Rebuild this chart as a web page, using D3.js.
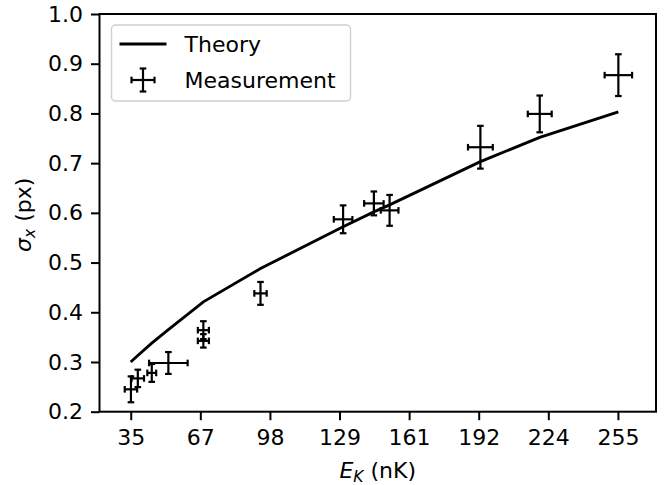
<!DOCTYPE html>
<html>
<head>
<meta charset="utf-8">
<script src="https://cdn.jsdelivr.net/npm/d3@7"></script>
<style>
  body { margin: 0; background: #fff; }
  text { font-family: "DejaVu Sans", sans-serif; fill: #000; }
</style>
</head>
<body>
<div id="chart"></div>
<script>
// theory curve, evaluated at the measured energies
var theoryE     = [35.0, 38.2, 44.5, 52.0, 67.8, 93.6, 130.9, 144.8, 151.9, 192.9, 219.7, 255.2];
var theorySigma = [0.300, 0.313, 0.338, 0.365, 0.421, 0.488, 0.572, 0.602, 0.616, 0.703, 0.752, 0.803];

// measurements with error bars
var measE        = [35.1, 38.2, 44.5, 52.0, 67.8, 67.8, 93.6, 130.9, 144.8, 151.9, 192.9, 219.7, 255.2];
var measEErr     = [2.8, 2.8, 2.0, 8.7, 2.5, 2.5, 2.8, 4.2, 4.4, 4.0, 5.6, 5.4, 6.2];
var measSigma    = [0.245, 0.267, 0.278, 0.298, 0.3425, 0.364, 0.438, 0.587, 0.619, 0.605, 0.732, 0.799, 0.877];
var measSigmaErr = [0.026, 0.0175, 0.018, 0.022, 0.0135, 0.018, 0.023, 0.028, 0.024, 0.031, 0.043, 0.037, 0.042];

// tick labels
var xTickLabels = ["35", "67", "98", "129", "161", "192", "224", "255"];
var yTicks = [0.2, 0.3, 0.4, 0.5, 0.6, 0.7, 0.8, 0.9, 1.0];

var margin = {top: 14, right: 9, bottom: 73.3, left: 99.5},
    width = 665 - margin.left - margin.right,
    height = 485 - margin.top - margin.bottom;

var fs = "22px", fsSub = "15.5px";

var svg = d3.select("#chart")
  .append("svg")
    .attr("width", 665)
    .attr("height", 485)
  .append("g")
    .attr("transform", "translate(" + margin.left + "," + margin.top + ")");

var x = d3.scaleLinear().domain([20.9, 272.2]).range([0, width]);
var y = d3.scaleLinear().domain([0.2, 1.0]).range([height, 0]);

// x ticks are evenly spaced between 35 and 255
var xTickVals = xTickLabels.map(function(d, i) { return 35 + i * (255 - 35) / (xTickLabels.length - 1); });

var xAxis = d3.axisBottom(x)
  .tickValues(xTickVals)
  .tickFormat(function(d, i) { return xTickLabels[i]; })
  .tickSizeInner(8.5).tickSizeOuter(0).tickPadding(9.5);
var yAxis = d3.axisLeft(y)
  .tickValues(yTicks)
  .tickFormat(d3.format(".1f"))
  .tickSizeInner(8.5).tickSizeOuter(0).tickPadding(8);

var gx = svg.append("g").attr("transform", "translate(0," + height + ")").call(xAxis);
var gy = svg.append("g").call(yAxis);
[gx, gy].forEach(function(g) {
  g.select(".domain").remove();
  g.selectAll(".tick line").attr("stroke", "#000").attr("stroke-width", 2);
  g.selectAll(".tick text").style("font-size", fs).attr("fill", "#000");
});

// frame
svg.append("rect")
  .attr("width", width).attr("height", height)
  .attr("fill", "none").attr("stroke", "#000").attr("stroke-width", 2);

// theory line
var line = d3.line()
  .x(function(d) { return x(d[0]); })
  .y(function(d) { return y(d[1]); });
svg.append("path")
  .datum(d3.zip(theoryE, theorySigma))
  .attr("d", line)
  .attr("fill", "none")
  .attr("stroke", "#000")
  .attr("stroke-width", 2.9);

// error bars
var cap = 3.3;
var meas = measE.map(function(e, i) {
  return {e: e, s: measSigma[i], de: measEErr[i], ds: measSigmaErr[i]};
});
var eb = svg.append("g").selectAll("g").data(meas).enter().append("g")
  .attr("stroke", "#000").attr("stroke-width", 2.2);
eb.append("line")
  .attr("x1", function(d) { return x(d.e - d.de); })
  .attr("x2", function(d) { return x(d.e + d.de); })
  .attr("y1", function(d) { return y(d.s); })
  .attr("y2", function(d) { return y(d.s); });
eb.append("line")
  .attr("x1", function(d) { return x(d.e); })
  .attr("x2", function(d) { return x(d.e); })
  .attr("y1", function(d) { return y(d.s - d.ds); })
  .attr("y2", function(d) { return y(d.s + d.ds); });
// caps
[-1, 1].forEach(function(sg) {
  eb.append("line")
    .attr("x1", function(d) { return x(d.e + sg * d.de); })
    .attr("x2", function(d) { return x(d.e + sg * d.de); })
    .attr("y1", function(d) { return y(d.s) - cap; })
    .attr("y2", function(d) { return y(d.s) + cap; });
  eb.append("line")
    .attr("x1", function(d) { return x(d.e) - cap; })
    .attr("x2", function(d) { return x(d.e) + cap; })
    .attr("y1", function(d) { return y(d.s + sg * d.ds); })
    .attr("y2", function(d) { return y(d.s + sg * d.ds); });
});

// legend
var lg = svg.append("g").attr("transform", "translate(12,11)");
lg.append("rect")
  .attr("width", 239).attr("height", 76)
  .attr("rx", 4).attr("ry", 4)
  .attr("fill", "#fff").attr("fill-opacity", 0.8)
  .attr("stroke", "#d0d0d0").attr("stroke-width", 1.4);
lg.append("line")
  .attr("x1", 8).attr("x2", 55).attr("y1", 19).attr("y2", 19)
  .attr("stroke", "#000").attr("stroke-width", 2.9);
lg.append("text").attr("x", 73).attr("y", 19).attr("dy", "0.36em")
  .style("font-size", fs).text("Theory");
var lm = lg.append("g").attr("transform", "translate(31.5,55)")
  .attr("stroke", "#000").attr("stroke-width", 2.2);
lm.append("line").attr("x1", -11.5).attr("x2", 11.5).attr("y1", 0).attr("y2", 0);
lm.append("line").attr("x1", 0).attr("x2", 0).attr("y1", -11.5).attr("y2", 11.5);
[-11.5, 11.5].forEach(function(o) {
  lm.append("line").attr("x1", o).attr("x2", o).attr("y1", -cap).attr("y2", cap);
  lm.append("line").attr("x1", -cap).attr("x2", cap).attr("y1", o).attr("y2", o);
});
lg.append("text").attr("x", 73).attr("y", 55).attr("dy", "0.36em")
  .style("font-size", fs).text("Measurement");

// axis labels
var xl = svg.append("text")
  .attr("x", width / 2).attr("y", height + 66)
  .style("text-anchor", "middle")
  .style("font-size", fs);
xl.append("tspan").style("font-style", "italic").text("E");
xl.append("tspan").style("font-style", "italic").style("font-size", fsSub)
  .attr("dy", "4").text("K");
xl.append("tspan").attr("dy", "-4").text(" (nK)");

var yl = svg.append("text")
  .attr("transform", "translate(" + (-68.5) + "," + (height / 2 + 2) + ") rotate(-90)")
  .style("text-anchor", "middle")
  .style("font-size", fs);
yl.append("tspan").style("font-style", "italic").text("σ");
yl.append("tspan").style("font-style", "italic").style("font-size", fsSub)
  .attr("dy", "4").text("x");
yl.append("tspan").attr("dy", "-4").text(" (px)");
</script>
</body>
</html>
